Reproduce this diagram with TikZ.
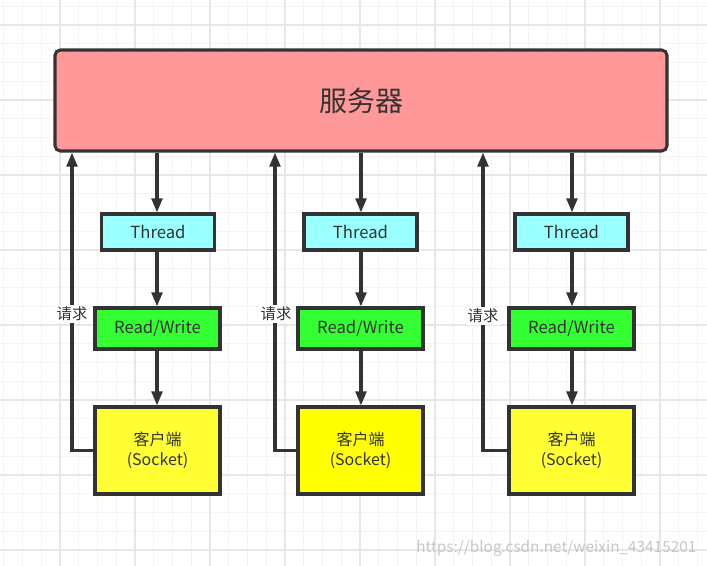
\documentclass[tikz,border=0pt]{standalone}
\usepackage{fontspec}
\setmainfont{Noto Sans CJK SC}
\usetikzlibrary{arrows.meta}
\definecolor{edge}{HTML}{333333}
\definecolor{srvfill}{HTML}{FF9999}
\definecolor{thrfill}{HTML}{99FFFF}
\definecolor{rwfill}{HTML}{33FF33}
\definecolor{clfill}{HTML}{FFFF33}
\definecolor{clfillb}{HTML}{FFFF00}
\definecolor{gridminor}{HTML}{F4F4F4}
\definecolor{gridmajor}{HTML}{E7E7E7}
\tikzset{
  box/.style={draw=edge, line width=2.3pt, rectangle, inner sep=0pt, text=edge},
  server/.style={box, fill=srvfill, rounded corners=4pt, minimum width=612*0.75pt, minimum height=101*0.75pt, font=\fontsize{21}{25}\selectfont},
  thread/.style={box, fill=thrfill, minimum width=113*0.75pt, minimum height=36*0.75pt, font=\fontsize{12.5}{14}\selectfont},
  rw/.style={box, fill=rwfill, minimum width=125*0.75pt, minimum height=41*0.75pt, font=\fontsize{12.5}{14}\selectfont},
  client/.style={box, fill=clfill, minimum width=125*0.75pt, minimum height=87*0.75pt, align=center, font=\fontsize{12}{15}\selectfont},
  arr/.style={draw=edge, line width=2.3pt, -{Triangle[length=10.5pt,width=8pt]}},
  req/.style={fill=white, inner sep=1.5pt, text=edge, font=\fontsize{11.5}{13}\selectfont},
  minorline/.style={draw=gridminor, line width=0.8pt},
  majorline/.style={draw=gridmajor, line width=0.8pt}
}
\begin{document}
\begin{tikzpicture}[x=0.75pt,y=-0.75pt]
\useasboundingbox (0,0) rectangle (707,566);
\fill[white] (0,0) rectangle (707,566);
% grid
\foreach \i in {0,...,37} {
  \draw[minorline] ({3.75+18.75*\i},0) -- ({3.75+18.75*\i},566);
}
\foreach \j in {0,...,30} {
  \draw[minorline] (0,{6.25+18.75*\j}) -- (707,{6.25+18.75*\j});
}
\foreach \i in {0,...,9} {
  \draw[majorline] ({60+75*\i},0) -- ({60+75*\i},566);
}
\foreach \j in {0,...,7} {
  \draw[majorline] (0,{25+75*\j}) -- (707,{25+75*\j});
}
% server
\node[server] (s) at (361,100.5) {\raisebox{-1pt}{服务器}};
% column 1
\node[thread] (t1) at (158,232) {\raisebox{-1.2pt}{Thread}};
\node[rw] (w1) at (157.5,328.5) {\raisebox{-1.2pt}{Read/Write}};
\node[client] (c1) at (157.5,450.5) {\raisebox{-1.5pt}{客户端}\\\raisebox{-1.5pt}{(Socket)}};
% column 2
\node[thread] (t2) at (360.5,232) {\raisebox{-1.2pt}{Thread}};
\node[rw] (w2) at (360.5,328.5) {\raisebox{-1.2pt}{Read/Write}};
\node[client, fill=clfillb] (c2) at (360.5,450.5) {\raisebox{-1.5pt}{客户端}\\\raisebox{-1.5pt}{(Socket)}};
% column 3
\node[thread] (t3) at (571.5,232) {\raisebox{-1.2pt}{Thread}};
\node[rw] (w3) at (571.5,328.5) {\raisebox{-1.2pt}{Read/Write}};
\node[client] (c3) at (571.5,450.5) {\raisebox{-1.5pt}{客户端}\\\raisebox{-1.5pt}{(Socket)}};
% down arrows
\coordinate (d1) at (157,0);
\coordinate (d2) at (361,0);
\coordinate (d3) at (572,0);
\draw[arr] (s.south -| d1) -- (t1.north -| d1);
\draw[arr] (t1.south -| d1) -- (w1.north -| d1);
\draw[arr] (w1.south -| d1) -- (c1.north -| d1);
\draw[arr] (s.south -| d2) -- (t2.north -| d2);
\draw[arr] (t2.south -| d2) -- (w2.north -| d2);
\draw[arr] (w2.south -| d2) -- (c2.north -| d2);
\draw[arr] (s.south -| d3) -- (t3.north -| d3);
\draw[arr] (t3.south -| d3) -- (w3.north -| d3);
\draw[arr] (w3.south -| d3) -- (c3.north -| d3);
% request arrows
\coordinate (r1) at (72,0);
\coordinate (r2) at (275,0);
\coordinate (r3) at (483,0);
\draw[arr] (c1.west) -| (s.south -| r1);
\draw[arr] (c2.west) -| (s.south -| r2);
\draw[arr] (c3.west) -| (s.south -| r3);
\node[req] (q1) at (72,314) {请求};
\node[req] (q2) at (276,314) {请求};
\node[req] (q3) at (483,316) {请求};
% watermark
\node[text=black!22, font=\fontsize{11.5}{13}\selectfont, anchor=east] (wm) at (701,548) {https://blog.csdn.net/weixin\_43415201};
\end{tikzpicture}
\end{document}
